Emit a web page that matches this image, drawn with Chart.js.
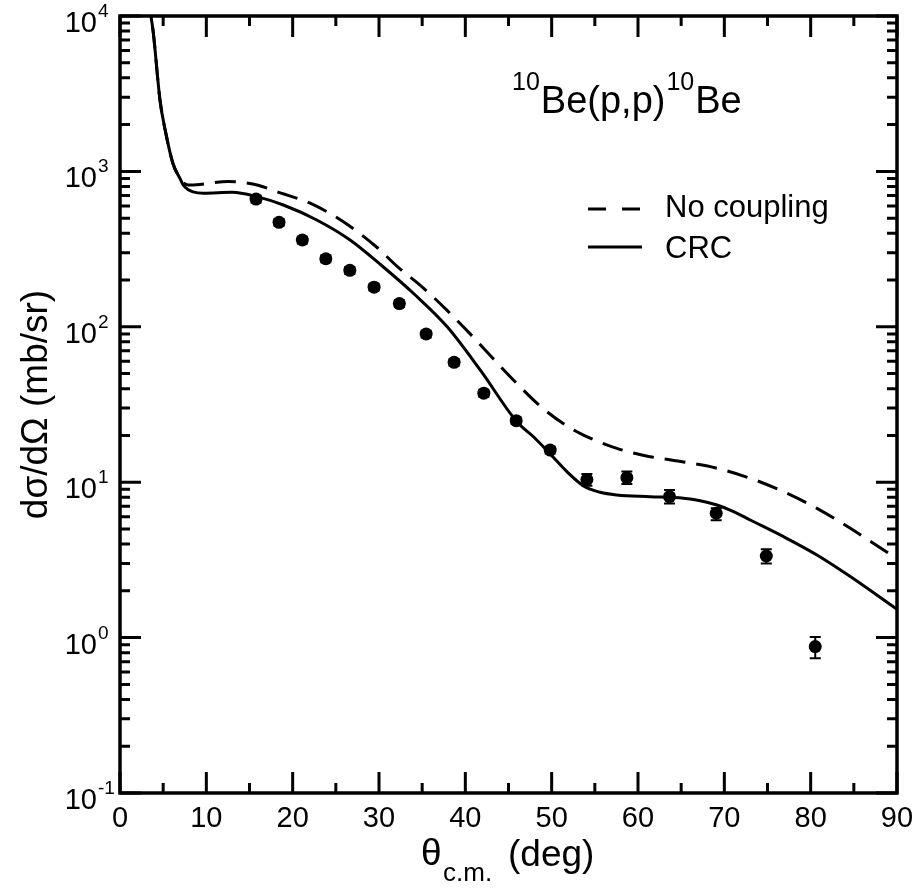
<!DOCTYPE html>
<html>
<head>
<meta charset="utf-8">
<script src="https://cdn.jsdelivr.net/npm/chart.js@4.4.1/dist/chart.umd.min.js"></script>
<style>
    html, body { margin: 0; padding: 0; background: #fff; }
    #wrap { width: 918px; height: 888px; }
</style>
</head>
<body>
<div id="wrap"><canvas id="chart" width="918" height="888"></canvas></div>
<script>
// CRC calculation (solid)
const thetaCRC = [3.3, 3.59, 3.86, 4.63, 5.30, 6.14, 6.95, 7.34, 7.92, 8.46, 9.65, 13.0, 15.84, 18.92, 22.79, 26.65,
    30.3, 34.1, 37.9, 41.8, 45.97, 47.89, 49.83, 51.76, 53.69, 55.62, 57.55, 61.41, 65.27, 67.2, 69.14, 71.07,
    73.0, 76.86, 80.73, 84.59, 90];
const sigmaCRC = [13500, 10000, 7780, 2880, 1770, 1120, 900, 815, 762, 738, 724, 733, 688, 608, 487, 362,
    248, 162, 100, 52, 24.5, 19.6, 15.2, 11.7, 9.46, 8.61, 8.28, 8.07, 7.88, 7.60, 7.13, 6.46,
    5.71, 4.46, 3.40, 2.47, 1.52];

// No coupling (dashed)
const thetaNoCoup = [3.3, 3.59, 3.86, 4.63, 5.30, 6.14, 6.95, 7.34, 7.92, 9.27, 12.5, 14.3, 16.0, 18.16, 22.02,
    25.87, 29.75, 32.06, 35.08, 37.86, 40.56, 43.19, 45.89, 48.67, 51.76, 53.69, 57.55, 61.41, 65.27, 69.14,
    73.0, 76.86, 80.73, 84.59, 88.45, 90];
const sigmaNoCoup = [13500, 10000, 7780, 2880, 1770, 1120, 905, 845, 818, 825, 860, 848, 815, 740, 624,
    474, 325, 246, 179, 128, 90, 62.7, 43.6, 30.9, 23.0, 20.1, 16.5, 14.6, 13.5, 12.3,
    10.6, 8.69, 6.79, 5.05, 3.66, 3.22];

// experimental points with error bars
const thetaExp = [15.76, 18.42, 21.12, 23.84, 26.62, 29.43, 32.36, 35.46, 38.70, 42.14, 45.89, 49.83, 54.08,
    58.71, 63.65, 69.06, 74.86, 80.53];
const sigmaExp = [664, 470, 362, 274, 231, 180, 141, 89.9, 59.1, 37.4, 24.9, 16.1, 10.4,
    10.7, 8.07, 6.31, 3.35, 0.875];
const errLow = [630, 447, 344, 260, 219, 171, 134, 85.4, 56.1, 35.5, 23.7, 15.3, 9.5,
    9.73, 7.3, 5.7, 3.0, 0.736];
const errHigh = [698, 494, 380, 288, 243, 189, 148, 94.4, 62.1, 39.3, 26.1, 16.9, 11.3,
    11.7, 8.9, 6.8, 3.7, 1.01];

// axes
const xMajorTicks = [0, 10, 20, 30, 40, 50, 60, 70, 80, 90];
const xMinorTicks = [5, 15, 25, 35, 45, 55, 65, 75, 85];
const yDecades = [-1, 0, 1, 2, 3, 4];

const FONT = '"Liberation Sans", Arial, Helvetica, sans-serif';

function toPoints(xs, ys) {
    return xs.map((x, i) => ({ x: x, y: ys[i] }));
}

// error bars, frame, inward ticks, labels and legend
const decorations = {
    id: 'decorations',
    afterDatasetsDraw(chart) {
        const ctx = chart.ctx;
        const xs = chart.scales.x, ys = chart.scales.y;
        ctx.save();
        ctx.strokeStyle = '#000';
        ctx.lineWidth = 2;
        thetaExp.forEach((t, i) => {
            const px = xs.getPixelForValue(t);
            const y1 = ys.getPixelForValue(errLow[i]);
            const y2 = ys.getPixelForValue(errHigh[i]);
            ctx.beginPath();
            ctx.moveTo(px, y1); ctx.lineTo(px, y2);
            ctx.moveTo(px - 5.5, y1); ctx.lineTo(px + 5.5, y1);
            ctx.moveTo(px - 5.5, y2); ctx.lineTo(px + 5.5, y2);
            ctx.stroke();
        });
        ctx.restore();
    },
    afterDraw(chart) {
        const ctx = chart.ctx;
        const a = chart.chartArea;
        const xs = chart.scales.x, ys = chart.scales.y;
        ctx.save();
        ctx.strokeStyle = '#000';
        ctx.fillStyle = '#000';

        // ticks, pointing inwards on all four sides
        ctx.lineWidth = 3;
        ctx.beginPath();
        const xTick = (v, len) => {
            const px = xs.getPixelForValue(v);
            ctx.moveTo(px, a.bottom); ctx.lineTo(px, a.bottom - len);
            ctx.moveTo(px, a.top); ctx.lineTo(px, a.top + len);
        };
        const yTick = (v, len) => {
            const py = ys.getPixelForValue(v);
            ctx.moveTo(a.left, py); ctx.lineTo(a.left + len, py);
            ctx.moveTo(a.right, py); ctx.lineTo(a.right - len, py);
        };
        xMajorTicks.forEach(v => xTick(v, 21));
        xMinorTicks.forEach(v => xTick(v, 10));
        yDecades.forEach(d => {
            yTick(Math.pow(10, d), 21);
            if (d < 4) {
                for (let k = 2; k <= 9; k++) yTick(k * Math.pow(10, d), 10);
            }
        });
        ctx.stroke();

        // frame
        ctx.lineWidth = 3.5;
        ctx.strokeRect(a.left, a.top, a.right - a.left, a.bottom - a.top);

        // x tick labels
        ctx.font = '29px ' + FONT;
        ctx.textAlign = 'center';
        ctx.textBaseline = 'alphabetic';
        xMajorTicks.forEach(v => {
            ctx.fillText(String(v), xs.getPixelForValue(v), a.bottom + 34);
        });

        // y tick labels 10^n
        yDecades.forEach(d => {
            const py = ys.getPixelForValue(Math.pow(10, d));
            ctx.font = '29px ' + FONT;
            ctx.textAlign = 'right';
            ctx.fillText('10', a.left - 23, py + 16);
            ctx.font = '19px ' + FONT;
            ctx.textAlign = 'left';
            ctx.fillText(String(d), a.left - 22, py + 1);
        });

        // x axis title
        ctx.textAlign = 'left';
        ctx.font = '37px ' + FONT;
        ctx.fillText('\u03b8', 421, 865);
        ctx.font = '26px ' + FONT;
        ctx.fillText('c.m.', 443, 881);
        ctx.font = '37px ' + FONT;
        ctx.fillText('(deg)', 508, 866);

        // y axis title
        ctx.save();
        ctx.translate(47, (a.top + a.bottom) / 2);
        ctx.rotate(-Math.PI / 2);
        ctx.textAlign = 'center';
        ctx.font = '37px ' + FONT;
        ctx.fillText('d\u03c3/d\u03a9 (mb/sr)', 0, 0);
        ctx.restore();

        // reaction label
        let x = 512;
        const piece = (txt, size, base) => {
            ctx.font = size + 'px ' + FONT;
            ctx.fillText(txt, x, base);
            x += ctx.measureText(txt).width + 1;
        };
        ctx.textAlign = 'left';
        piece('10', 25, 90);
        piece('Be(p,p)', 38, 113);
        piece('10', 25, 90);
        piece('Be', 38, 113);

        // legend
        ctx.lineWidth = 3;
        ctx.setLineDash([18, 16]);
        ctx.beginPath(); ctx.moveTo(588, 209); ctx.lineTo(642, 209); ctx.stroke();
        ctx.setLineDash([]);
        ctx.beginPath(); ctx.moveTo(588, 247); ctx.lineTo(642, 247); ctx.stroke();
        ctx.font = '31px ' + FONT;
        ctx.fillText('No coupling', 665, 217);
        ctx.fillText('CRC', 665, 258);

        ctx.restore();
    }
};

new Chart(document.getElementById('chart'), {
    type: 'line',
    data: {
        datasets: [
            {
                label: 'No coupling',
                data: toPoints(thetaNoCoup, sigmaNoCoup),
                borderColor: '#000',
                borderWidth: 3,
                borderDash: [21, 11],
                pointRadius: 0,
                cubicInterpolationMode: 'monotone',
                fill: false,
                clip: 0
            },
            {
                label: 'CRC',
                data: toPoints(thetaCRC, sigmaCRC),
                borderColor: '#000',
                borderWidth: 3,
                pointRadius: 0,
                cubicInterpolationMode: 'monotone',
                fill: false,
                clip: 0
            },
            {
                label: 'Data',
                data: toPoints(thetaExp, sigmaExp),
                showLine: false,
                pointRadius: 6.5,
                pointBackgroundColor: '#000',
                pointBorderWidth: 0,
                borderColor: '#000'
            }
        ]
    },
    options: {
        responsive: false,
        animation: false,
        devicePixelRatio: 1,
        layout: { padding: { left: 120, right: 21, top: 16, bottom: 95 } },
        plugins: {
            legend: { display: false },
            tooltip: { enabled: false }
        },
        scales: {
            x: { type: 'linear', min: 0, max: 90, display: false },
            y: { type: 'logarithmic', min: 0.1, max: 10000, display: false }
        }
    },
    plugins: [decorations]
});
</script>
</body>
</html>
